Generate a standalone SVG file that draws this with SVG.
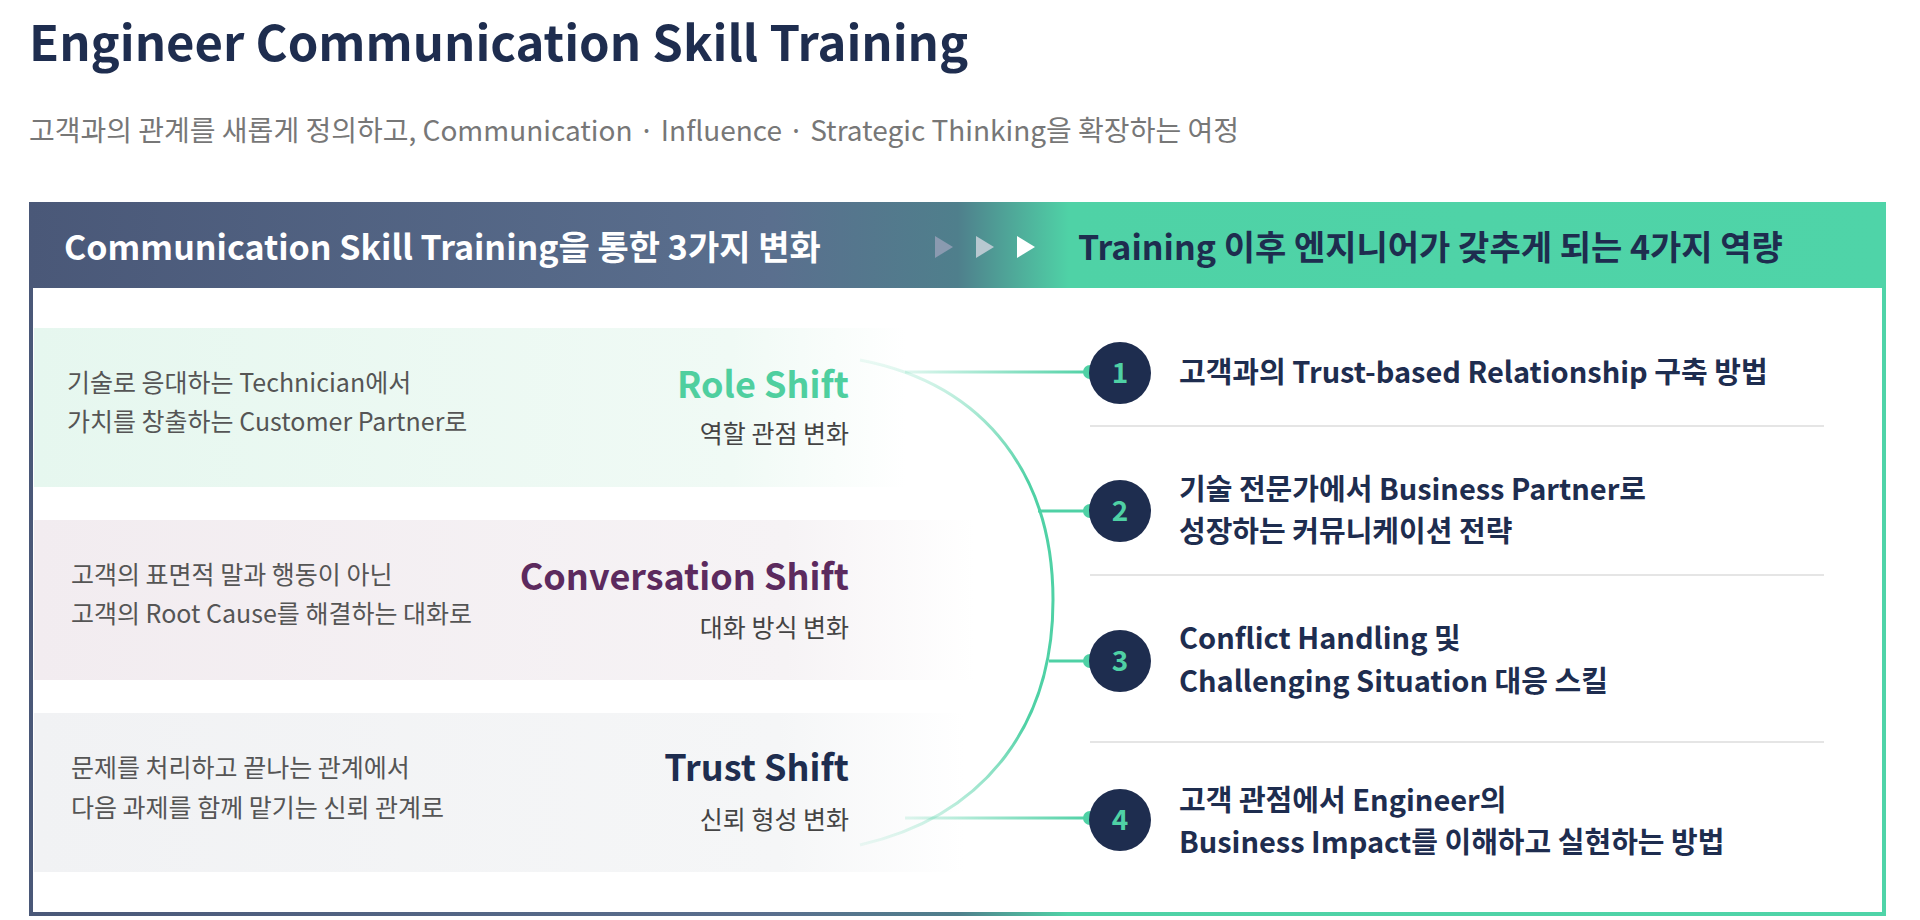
<svg xmlns="http://www.w3.org/2000/svg" width="1920" height="920" viewBox="0 0 1920 920">
<defs>
<linearGradient id="hdr" x1="0" y1="0" x2="1" y2="0">
<stop offset="0" stop-color="#4a5878"/><stop offset="0.4" stop-color="#5a6f8e"/><stop offset="0.5" stop-color="#4f7f8c"/><stop offset="0.56" stop-color="#4fd2a6"/><stop offset="1" stop-color="#4fd4a8"/>
</linearGradient>
<linearGradient id="r1" x1="0" y1="0" x2="1" y2="0"><stop offset="0" stop-color="#e6f7ef"/><stop offset="0.8" stop-color="#f0faf5"/><stop offset="1" stop-color="#ffffff"/></linearGradient>
<linearGradient id="r2" x1="0" y1="0" x2="1" y2="0"><stop offset="0" stop-color="#f2ecf0"/><stop offset="0.8" stop-color="#f6f3f5"/><stop offset="1" stop-color="#ffffff"/></linearGradient>
<linearGradient id="r3" x1="0" y1="0" x2="1" y2="0"><stop offset="0" stop-color="#f1f2f4"/><stop offset="0.8" stop-color="#f5f6f7"/><stop offset="1" stop-color="#ffffff"/></linearGradient>
<linearGradient id="arc" x1="0" y1="0" x2="0" y2="1"><stop offset="0" stop-color="#4fd1a5" stop-opacity="0.1"/><stop offset="0.25" stop-color="#4fd1a5"/><stop offset="0.75" stop-color="#4fd1a5"/><stop offset="1" stop-color="#4fd1a5" stop-opacity="0.1"/></linearGradient>
<linearGradient id="ln" gradientUnits="userSpaceOnUse" x1="900" y1="0" x2="1090" y2="0"><stop offset="0" stop-color="#4fd1a5" stop-opacity="0.15"/><stop offset="1" stop-color="#4fd1a5"/></linearGradient>
</defs>
<style>
text{font-family:"Noto Sans CJK KR","Noto Sans",sans-serif}
.b{font-weight:700}
.l{font-size:25px;fill:#555}
.tt{font-size:36px;font-weight:700;text-anchor:end}
.st{font-size:25px;fill:#444;text-anchor:end}
.it{font-size:29px;font-weight:700;fill:#1e2d4f}
.num{font-size:28px;font-weight:700;fill:#4fd1a5;text-anchor:middle}
.sep{stroke:#dcdcdc;stroke-width:1.5}
</style>
<rect width="1920" height="920" fill="#fff"/>
<g id="title"><text x="29" y="61" class="b" font-size="49" fill="#1e2d4f">Engineer Communication Skill Training</text>
<text x="29" y="141" font-size="28" fill="#777">고객과의 관계를 새롭게 정의하고, Communication · Influence · Strategic Thinking을 확장하는 여정</text></g>
<g id="frame">
<rect x="31" y="204" width="1853" height="710" fill="#fff" stroke="url(#hdr)" stroke-width="4"/>
<rect x="29" y="202" width="1857" height="86" fill="url(#hdr)"/>
<text x="64" y="260" class="b" font-size="34" fill="#fff">Communication Skill Training을 통한 3가지  변화</text>
<polygon points="935,236 953,247 935,258" fill="#8a9ab0"/>
<polygon points="976,236 994,247 976,258" fill="#b8c8d0"/>
<polygon points="1017,236 1035,247 1017,258" fill="#ffffff"/>
<text x="1078" y="260" class="b" font-size="34" fill="#1e2d4f">Training 이후 엔지니어가 갖추게 되는 4가지  역량</text>
</g>
<g id="row1"><rect x="34" y="328" width="872" height="159" fill="url(#r1)"/>
<text class="l" x="67" y="392">기술로 응대하는 Technician에서</text><text class="l" x="67" y="431">가치를 창출하는 Customer Partner로</text>
<text class="tt" x="849" y="398" fill="#4fcf9f">Role Shift</text><text class="st" x="849" y="443">역할 관점 변화</text></g>
<g id="row2"><rect x="34" y="520" width="940" height="160" fill="url(#r2)"/>
<text class="l" x="71" y="584">고객의 표면적 말과 행동이 아닌</text><text class="l" x="71" y="623">고객의 Root Cause를 해결하는 대화로</text>
<text class="tt" x="849" y="590" fill="#5c2a5e">Conversation Shift</text><text class="st" x="849" y="637">대화 방식 변화</text></g>
<g id="row3"><rect x="34" y="713" width="930" height="159" fill="url(#r3)"/>
<text class="l" x="71" y="777">문제를 처리하고 끝나는 관계에서</text><text class="l" x="71" y="817">다음 과제를 함께 맡기는 신뢰 관계로</text>
<text class="tt" x="849" y="781" fill="#1e2d4f">Trust Shift</text><text class="st" x="849" y="829">신뢰 형성 변화</text></g>
<g id="connectors" fill="none">
<path d="M860 360 C990 385 1053 480 1053 600 C1053 720 990 815 860 845" stroke="url(#arc)" stroke-width="3"/>
<line x1="905" y1="372" x2="1090" y2="372" stroke="url(#ln)" stroke-width="3"/>
<line x1="1038" y1="511" x2="1090" y2="511" stroke="#4fd1a5" stroke-width="3"/>
<line x1="1049" y1="661" x2="1090" y2="661" stroke="#4fd1a5" stroke-width="3"/>
<line x1="905" y1="818" x2="1090" y2="818" stroke="url(#ln)" stroke-width="3"/>
<g fill="#4fd1a5"><circle cx="1090" cy="372" r="7"/><circle cx="1090" cy="511" r="7"/><circle cx="1090" cy="661" r="7"/><circle cx="1090" cy="818" r="7"/></g>
</g>
<g id="item1"><circle cx="1120" cy="373" r="31" fill="#1e2d4f"/><text class="num" x="1120" y="383">1</text><text class="it" x="1179" y="383">고객과의 Trust-based Relationship 구축 방법</text></g>
<line class="sep" x1="1090" y1="426" x2="1824" y2="426"/>
<g id="item2"><circle cx="1120" cy="511" r="31" fill="#1e2d4f"/><text class="num" x="1120" y="521">2</text><text class="it" x="1179" y="500">기술 전문가에서 Business Partner로</text><text class="it" x="1179" y="542">성장하는 커뮤니케이션 전략</text></g>
<line class="sep" x1="1090" y1="575" x2="1824" y2="575"/>
<g id="item3"><circle cx="1120" cy="661" r="31" fill="#1e2d4f"/><text class="num" x="1120" y="671">3</text><text class="it" x="1179" y="649">Conflict Handling 및</text><text class="it" x="1179" y="692">Challenging Situation 대응 스킬</text></g>
<line class="sep" x1="1090" y1="742" x2="1824" y2="742"/>
<g id="item4"><circle cx="1120" cy="820" r="31" fill="#1e2d4f"/><text class="num" x="1120" y="830">4</text><text class="it" x="1179" y="811">고객 관점에서 Engineer의</text><text class="it" x="1179" y="853">Business Impact를 이해하고 실현하는 방법</text></g>
</svg>
